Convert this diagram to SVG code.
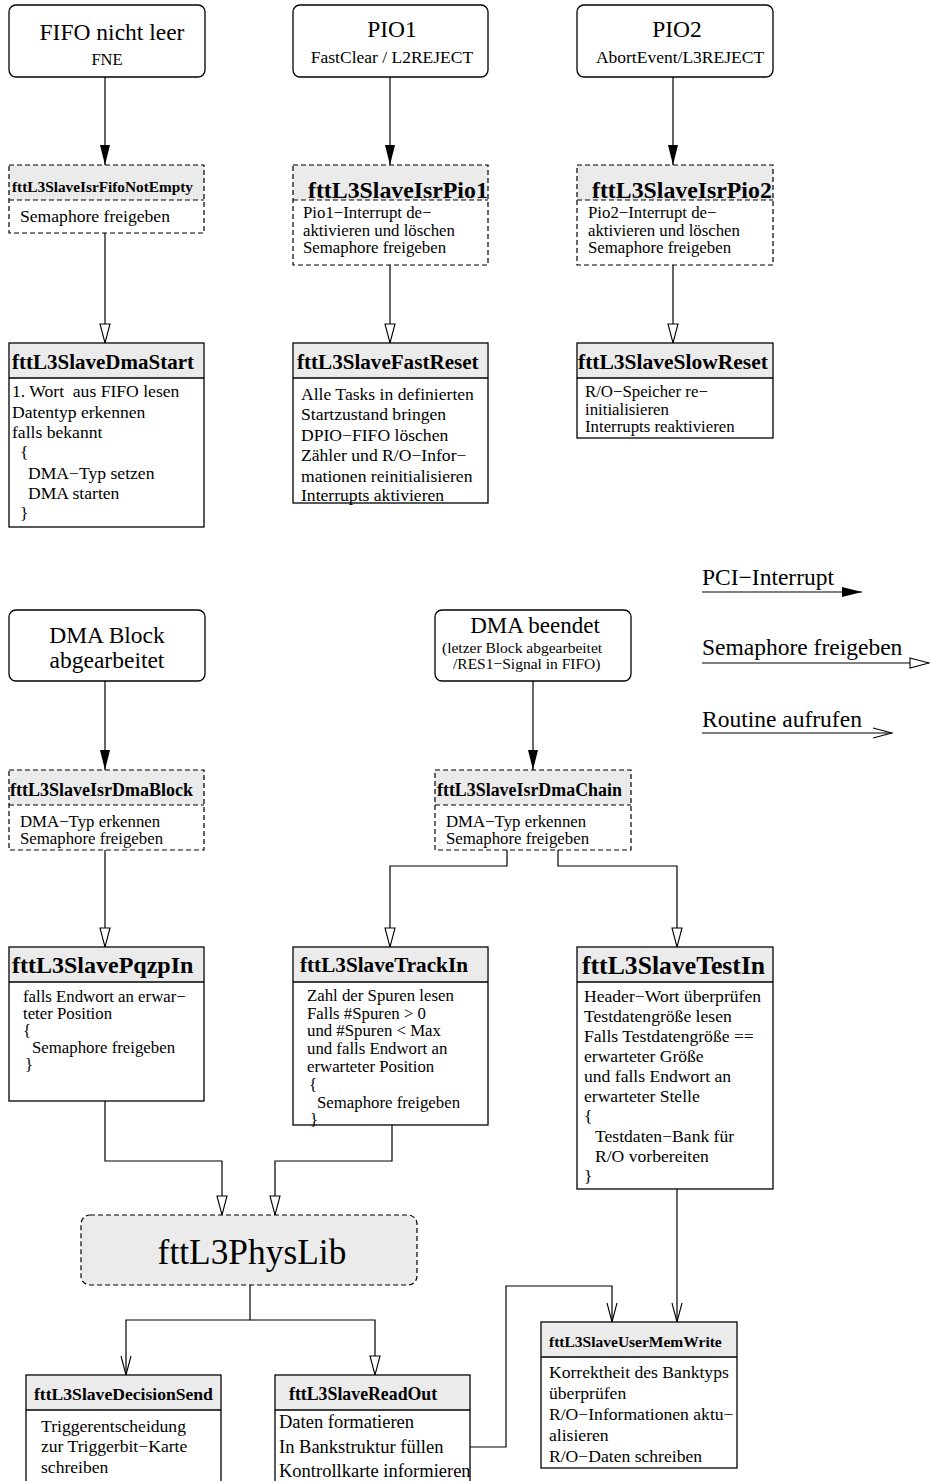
<svg xmlns="http://www.w3.org/2000/svg" width="930" height="1481" viewBox="0 0 930 1481">
<style>
text{font-family:"Liberation Serif","Times New Roman",serif;fill:#000}
.b{font-weight:bold}
.box{fill:#fff;stroke:#000;stroke-width:1.3}
.dash{fill:none;stroke:#000;stroke-width:1.2;stroke-dasharray:5,3}
.hdr{fill:#ebebeb;stroke:none}
.sep{stroke:#000;stroke-width:1.3}
.dsep{stroke:#000;stroke-width:1.2;stroke-dasharray:5,3}
.body{font-size:17.6px}
.t{font-size:16.8px}
.c{fill:none;stroke:#000;stroke-width:1.2}
.f{marker-end:url(#mf)}
.h{marker-end:url(#mh)}
.o{marker-end:url(#mo)}
</style>
<defs>
<marker id="mf" markerUnits="userSpaceOnUse" viewBox="0 0 20 10" markerWidth="20" markerHeight="10" refX="20" refY="5" orient="auto"><path d="M0,0 L20,5 L0,10 z" fill="#000"/></marker>
<marker id="mh" markerUnits="userSpaceOnUse" viewBox="-1 -1 22 12" markerWidth="22" markerHeight="12" refX="19" refY="5" orient="auto"><path d="M0,0 L19,5 L0,10 z" fill="#fff" stroke="#000" stroke-width="1.1"/></marker>
<marker id="mo" markerUnits="userSpaceOnUse" viewBox="-1 -1 22 12" markerWidth="22" markerHeight="12" refX="19" refY="5" orient="auto"><path d="M0,0 L19,5 L0,10" fill="none" stroke="#000" stroke-width="1.1"/></marker>
</defs>

<g id="connectors">
<path class="c f" d="M105,77 V165"/>
<path class="c f" d="M390,77 V165"/>
<path class="c f" d="M673,77 V165"/>
<path class="c h" d="M105,233 V343"/>
<path class="c h" d="M390,265 V343"/>
<path class="c h" d="M673,265 V343"/>
<path class="c f" d="M105,681 V770"/>
<path class="c f" d="M533,681 V770"/>
<path class="c h" d="M105,850 V947"/>
<path class="c h" d="M507,850 V866 H390 V947"/>
<path class="c h" d="M558,850 V866 H677 V947"/>
<path class="c h" d="M105,1101 V1161 H222 V1215"/>
<path class="c h" d="M392,1125 V1161 H275 V1215"/>
<path class="c o" d="M250,1285 V1320 H126 V1375"/>
<path class="c h" d="M250,1320 H375 V1375"/>
<path class="c o" d="M470,1447 H506 V1286 H612 V1322"/>
<path class="c o" d="M677,1189 V1322"/>
</g>

<g id="legend">
<text x="702" y="585" font-size="23.5">PCI−Interrupt</text>
<path class="c f" d="M702,592 H862"/>
<text x="702" y="655" font-size="23.5">Semaphore freigeben</text>
<path class="c h" d="M702,663 H929"/>
<text x="702" y="727" font-size="23.5">Routine aufrufen</text>
<path class="c o" d="M702,733 H892"/>
</g>

<g id="fifo">
<rect class="box" x="9" y="5" width="196" height="72" rx="7"/>
<text x="112" y="40" font-size="23.5" text-anchor="middle">FIFO nicht leer</text>
<text x="107" y="65" font-size="16.5" text-anchor="middle">FNE</text>
</g>
<g id="pio1">
<rect class="box" x="293" y="5" width="195" height="72" rx="7"/>
<text x="392" y="37" font-size="23.5" text-anchor="middle">PIO1</text>
<text x="392" y="63" font-size="17.5" text-anchor="middle">FastClear / L2REJECT</text>
</g>
<g id="pio2">
<rect class="box" x="577" y="5" width="196" height="72" rx="7"/>
<text x="677" y="37" font-size="23.5" text-anchor="middle">PIO2</text>
<text x="680" y="63" font-size="17.5" text-anchor="middle">AbortEvent/L3REJECT</text>
</g>

<g id="isrFifo">
<rect class="hdr" x="9" y="165" width="195" height="35"/>
<rect class="dash" x="9" y="165" width="195" height="68"/>
<line class="dsep" x1="9" y1="200" x2="204" y2="200"/>
<text class="b" x="12" y="192" font-size="15.3">fttL3SlaveIsrFifoNotEmpty</text>
<text class="body" x="20" y="222">Semaphore freigeben</text>
</g>
<g id="isrPio1">
<rect class="hdr" x="293" y="165" width="195" height="35"/>
<rect class="dash" x="293" y="165" width="195" height="100"/>
<line class="dsep" x1="293" y1="200" x2="488" y2="200"/>
<text class="b" x="308" y="198" font-size="23.8">fttL3SlaveIsrPio1</text>
<text class="t" x="303" y="218">Pio1−Interrupt de−</text>
<text class="t" x="303" y="236">aktivieren und löschen</text>
<text class="t" x="303" y="253">Semaphore freigeben</text>
</g>
<g id="isrPio2">
<rect class="hdr" x="577" y="165" width="196" height="35"/>
<rect class="dash" x="577" y="165" width="196" height="100"/>
<line class="dsep" x1="577" y1="200" x2="773" y2="200"/>
<text class="b" x="592" y="198" font-size="23.8">fttL3SlaveIsrPio2</text>
<text class="t" x="588" y="218">Pio2−Interrupt de−</text>
<text class="t" x="588" y="236">aktivieren und löschen</text>
<text class="t" x="588" y="253">Semaphore freigeben</text>
</g>

<g id="dmaStart">
<rect class="box" x="9" y="343" width="195" height="184"/>
<rect class="hdr" x="10" y="344" width="193" height="34"/>
<line class="sep" x1="9" y1="378" x2="204" y2="378"/>
<text class="b" x="12" y="369" font-size="21">fttL3SlaveDmaStart</text>
<text class="body" x="12" y="397" font-size="18" xml:space="preserve">1. Wort  aus FIFO lesen</text>
<text class="body" x="12" y="418">Datentyp erkennen</text>
<text class="body" x="12" y="438">falls bekannt</text>
<text class="body" x="20" y="458">{</text>
<text class="body" x="28" y="479">DMA−Typ setzen</text>
<text class="body" x="28" y="499">DMA starten</text>
<text class="body" x="20" y="519">}</text>
</g>
<g id="fastReset">
<rect class="box" x="293" y="343" width="195" height="160"/>
<rect class="hdr" x="294" y="344" width="193" height="34"/>
<line class="sep" x1="293" y1="378" x2="488" y2="378"/>
<text class="b" x="297" y="369" font-size="21.1">fttL3SlaveFastReset</text>
<text class="body" x="301" y="400">Alle Tasks in definierten</text>
<text class="body" x="301" y="420">Startzustand bringen</text>
<text class="body" x="301" y="441">DPIO−FIFO löschen</text>
<text class="body" x="301" y="461">Zähler und R/O−Infor−</text>
<text class="body" x="301" y="482">mationen reinitialisieren</text>
<text class="body" x="301" y="501">Interrupts aktivieren</text>
</g>
<g id="slowReset">
<rect class="box" x="577" y="343" width="196" height="95"/>
<rect class="hdr" x="578" y="344" width="194" height="34"/>
<line class="sep" x1="577" y1="378" x2="773" y2="378"/>
<text class="b" x="578" y="369" font-size="21.5">fttL3SlaveSlowReset</text>
<text class="t" x="585" y="397">R/O−Speicher re−</text>
<text class="t" x="585" y="415">initialisieren</text>
<text class="t" x="585" y="432">Interrupts reaktivieren</text>
</g>

<g id="dmaBlock">
<rect class="box" x="9" y="610" width="196" height="71" rx="7"/>
<text x="107" y="643" font-size="23.5" text-anchor="middle">DMA Block</text>
<text x="107" y="668" font-size="23.5" text-anchor="middle">abgearbeitet</text>
</g>
<g id="dmaEnd">
<rect class="box" x="435" y="610" width="196" height="71" rx="7"/>
<text x="535" y="633" font-size="23" text-anchor="middle">DMA beendet</text>
<text x="442" y="653" font-size="15.5">(letzer Block abgearbeitet</text>
<text x="453" y="669" font-size="15.5">/RES1−Signal in FIFO)</text>
</g>

<g id="isrDmaBlock">
<rect class="hdr" x="9" y="770" width="195" height="35"/>
<rect class="dash" x="9" y="770" width="195" height="80"/>
<line class="dsep" x1="9" y1="805" x2="204" y2="805"/>
<text class="b" x="10" y="796" font-size="18">fttL3SlaveIsrDmaBlock</text>
<text class="t" x="20" y="827">DMA−Typ erkennen</text>
<text class="t" x="20" y="844">Semaphore freigeben</text>
</g>
<g id="isrDmaChain">
<rect class="hdr" x="435" y="770" width="196" height="35"/>
<rect class="dash" x="435" y="770" width="196" height="80"/>
<line class="dsep" x1="435" y1="805" x2="631" y2="805"/>
<text class="b" x="437" y="796" font-size="17.9">fttL3SlaveIsrDmaChain</text>
<text class="t" x="446" y="827">DMA−Typ erkennen</text>
<text class="t" x="446" y="844">Semaphore freigeben</text>
</g>

<g id="pqzpIn">
<rect class="box" x="9" y="947" width="195" height="154"/>
<rect class="hdr" x="10" y="948" width="193" height="34"/>
<line class="sep" x1="9" y1="982" x2="204" y2="982"/>
<text class="b" x="12" y="973" font-size="24">fttL3SlavePqzpIn</text>
<text class="t" x="23" y="1002">falls Endwort an erwar−</text>
<text class="t" x="23" y="1019">teter Position</text>
<text class="t" x="23" y="1036">{</text>
<text class="t" x="32" y="1053">Semaphore freigeben</text>
<text class="t" x="25" y="1070">}</text>
</g>
<g id="trackIn">
<rect class="box" x="293" y="947" width="195" height="178"/>
<rect class="hdr" x="294" y="948" width="193" height="34"/>
<line class="sep" x1="293" y1="982" x2="488" y2="982"/>
<text class="b" x="300" y="972" font-size="21.2">fttL3SlaveTrackIn</text>
<text class="t" x="307" y="1001">Zahl der Spuren lesen</text>
<text class="t" x="307" y="1019">Falls #Spuren &gt; 0</text>
<text class="t" x="307" y="1036">und #Spuren &lt; Max</text>
<text class="t" x="307" y="1054">und falls Endwort an</text>
<text class="t" x="307" y="1072">erwarteter Position</text>
<text class="t" x="309" y="1090">{</text>
<text class="t" x="317" y="1108">Semaphore freigeben</text>
<text class="t" x="310" y="1125">}</text>
</g>
<g id="testIn">
<rect class="box" x="577" y="947" width="196" height="242"/>
<rect class="hdr" x="578" y="948" width="194" height="34"/>
<line class="sep" x1="577" y1="982" x2="773" y2="982"/>
<text class="b" x="582" y="974" font-size="25.7">fttL3SlaveTestIn</text>
<text class="body" x="584" y="1002">Header−Wort überprüfen</text>
<text class="body" x="584" y="1022">Testdatengröße lesen</text>
<text class="body" x="584" y="1042">Falls Testdatengröße ==</text>
<text class="body" x="584" y="1062">erwarteter Größe</text>
<text class="body" x="584" y="1082">und falls Endwort an</text>
<text class="body" x="584" y="1102">erwarteter Stelle</text>
<text class="body" x="584" y="1122">{</text>
<text class="body" x="595" y="1142">Testdaten−Bank für</text>
<text class="body" x="595" y="1162">R/O vorbereiten</text>
<text class="body" x="584" y="1182">}</text>
</g>

<g id="physLib">
<rect x="81" y="1215" width="336" height="70" rx="9" fill="#ebebeb" stroke="#000" stroke-width="1.2" stroke-dasharray="5,3"/>
<text x="252" y="1264" font-size="35.4" text-anchor="middle">fttL3PhysLib</text>
</g>

<g id="decisionSend">
<rect class="box" x="26" y="1375" width="195" height="120"/>
<rect class="hdr" x="27" y="1376" width="193" height="34"/>
<line class="sep" x1="26" y1="1410" x2="221" y2="1410"/>
<text class="b" x="34" y="1400" font-size="17.6">fttL3SlaveDecisionSend</text>
<text class="body" x="41" y="1432">Triggerentscheidung</text>
<text class="body" x="41" y="1452">zur Triggerbit−Karte</text>
<text class="body" x="41" y="1473">schreiben</text>
</g>
<g id="readOut">
<rect class="box" x="275" y="1375" width="195" height="120"/>
<rect class="hdr" x="276" y="1376" width="193" height="34"/>
<line class="sep" x1="275" y1="1410" x2="470" y2="1410"/>
<text class="b" x="289" y="1400" font-size="17.8">fttL3SlaveReadOut</text>
<text x="279" y="1428" font-size="18.5">Daten formatieren</text>
<text x="279" y="1453" font-size="18.5">In Bankstruktur füllen</text>
<text x="279" y="1477" font-size="18.5">Kontrollkarte informieren</text>
</g>
<g id="userMemWrite">
<rect class="box" x="541" y="1322" width="196" height="146"/>
<rect class="hdr" x="542" y="1323" width="194" height="34"/>
<line class="sep" x1="541" y1="1357" x2="737" y2="1357"/>
<text class="b" x="549" y="1347" font-size="15.5">fttL3SlaveUserMemWrite</text>
<text class="body" x="549" y="1378">Korrektheit des Banktyps</text>
<text class="body" x="549" y="1399">überprüfen</text>
<text class="body" x="549" y="1420">R/O−Informationen aktu−</text>
<text class="body" x="549" y="1441">alisieren</text>
<text class="body" x="549" y="1462">R/O−Daten schreiben</text>
</g>
</svg>
